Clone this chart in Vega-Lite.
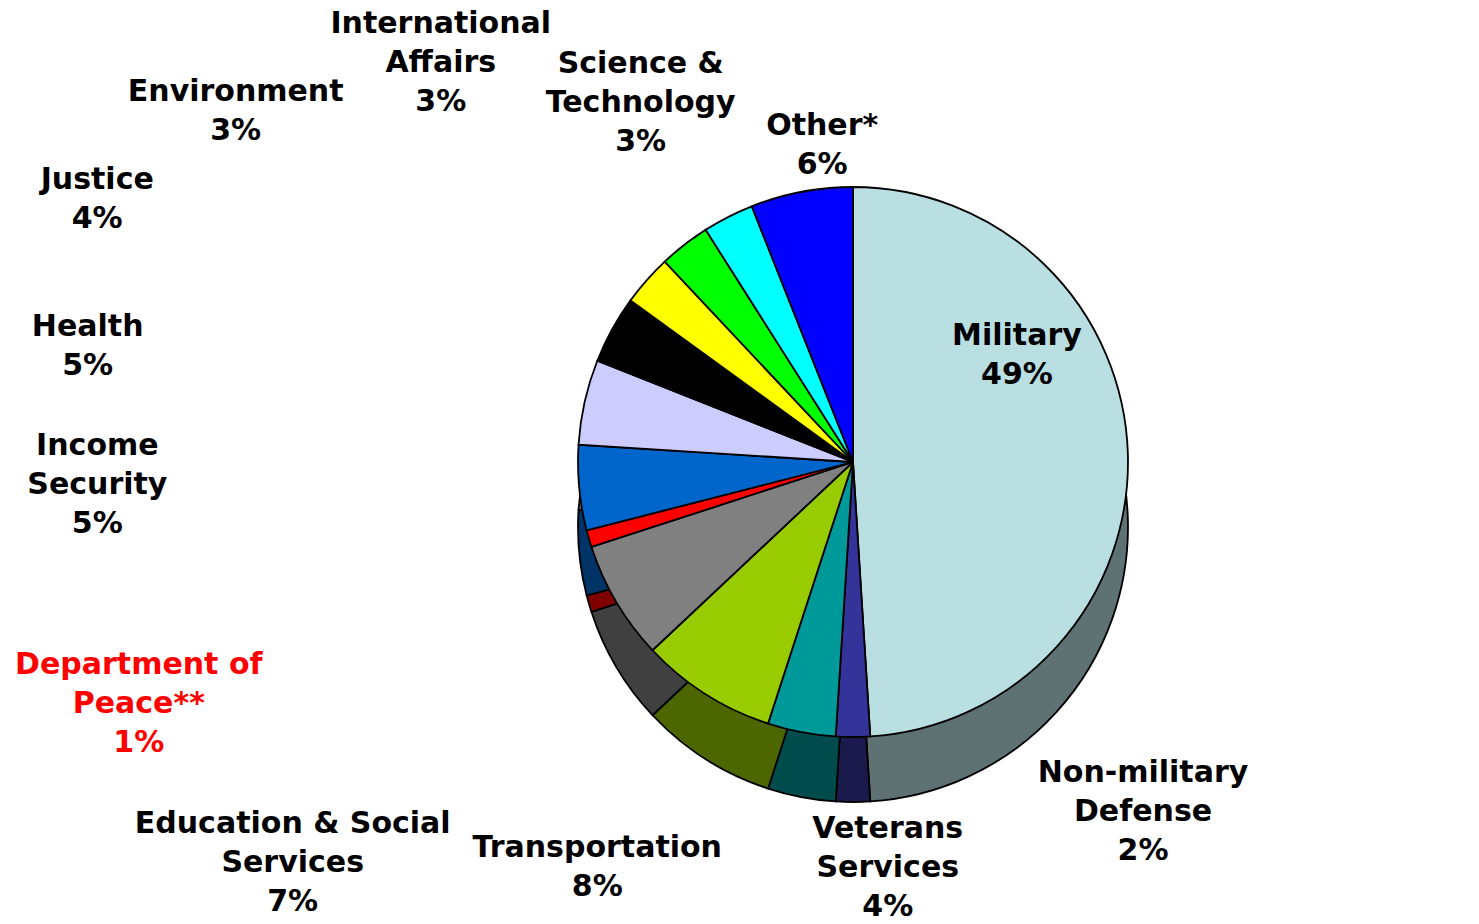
{
  "$schema": "https://vega.github.io/schema/vega-lite/v6.json",
  "autosize": {"type": "none"},
  "width": 1252,
  "height": 898,
  "padding": {"left": 227, "top": 13, "right": 0, "bottom": 13},
  "background": "#ffffff",
  "config": {"view": {"stroke": null}},
  "data": {
    "values": [
      {"name": "Military", "value": 49, "order": 1, "label": "Military\n49%"},
      {"name": "Non-military Defense", "value": 2, "order": 2, "label": "Non-military\nDefense\n2%"},
      {"name": "Veterans Services", "value": 4, "order": 3, "label": "Veterans\nServices\n4%"},
      {"name": "Transportation", "value": 8, "order": 4, "label": "Transportation\n8%"},
      {"name": "Education & Social Services", "value": 7, "order": 5, "label": "Education & Social\nServices\n7%"},
      {"name": "Department of Peace", "value": 1, "order": 6, "label": "Department of\nPeace**\n1%"},
      {"name": "Income Security", "value": 5, "order": 7, "label": "Income\nSecurity\n5%"},
      {"name": "Health", "value": 5, "order": 8, "label": "Health\n5%"},
      {"name": "Justice", "value": 4, "order": 9, "label": "Justice\n4%"},
      {"name": "Environment", "value": 3, "order": 10, "label": "Environment\n3%"},
      {"name": "International Affairs", "value": 3, "order": 11, "label": "International\nAffairs\n3%"},
      {"name": "Science & Technology", "value": 3, "order": 12, "label": "Science &\nTechnology\n3%"},
      {"name": "Other", "value": 6, "order": 13, "label": "Other*\n6%"}
    ]
  },
  "encoding": {
    "theta": {"field": "value", "type": "quantitative", "stack": true},
    "order": {"field": "order", "type": "quantitative"}
  },
  "layer": [
    {
      "mark": {"type": "arc", "outerRadius": 275, "yOffset": 65, "stroke": "#000000", "strokeWidth": 1.8},
      "encoding": {
        "color": {
          "field": "name", "type": "nominal", "legend": null,
          "scale": {
            "domain": ["Military", "Non-military Defense", "Veterans Services", "Transportation", "Education & Social Services", "Department of Peace", "Income Security", "Health", "Justice", "Environment", "International Affairs", "Science & Technology", "Other"],
            "range": ["#5E7173", "#1A1A4C", "#004C4C", "#4C6600", "#404040", "#800000", "#003366", "#666680", "#000000", "#808000", "#008000", "#008080", "#000080"]
          }
        }
      }
    },
    {
      "mark": {"type": "arc", "outerRadius": 275, "stroke": "#000000", "strokeWidth": 1.8},
      "encoding": {
        "color": {
          "field": "name", "type": "nominal", "legend": null,
          "scale": {
            "domain": ["Military", "Non-military Defense", "Veterans Services", "Transportation", "Education & Social Services", "Department of Peace", "Income Security", "Health", "Justice", "Environment", "International Affairs", "Science & Technology", "Other"],
            "range": ["#B9DFE3", "#333399", "#009999", "#99CC00", "#808080", "#FF0000", "#0066CC", "#CCCCFF", "#000000", "#FFFF00", "#00FF00", "#00FFFF", "#0000FF"]
          }
        }
      }
    },
    {
      "mark": {"type": "text", "font": "DejaVu Sans", "fontWeight": "bold", "fontSize": 30, "lineHeight": 39, "lineBreak": "\n", "align": "center", "baseline": "middle", "fill": "#000000", "radius": 179, "dx": -15, "dy": -120},
      "encoding": {"text": {"condition": {"test": "datum.name === 'Military'", "field": "label", "type": "nominal"}, "value": ""}}
    },
    {
      "mark": {"type": "text", "font": "DejaVu Sans", "fontWeight": "bold", "fontSize": 30, "lineHeight": 39, "lineBreak": "\n", "align": "center", "baseline": "middle", "fill": "#000000", "radius": 337, "dx": 290, "dy": -26},
      "encoding": {"text": {"condition": {"test": "datum.name === 'Non-military Defense'", "field": "label", "type": "nominal"}, "value": ""}}
    },
    {
      "mark": {"type": "text", "font": "DejaVu Sans", "fontWeight": "bold", "fontSize": 30, "lineHeight": 39, "lineBreak": "\n", "align": "center", "baseline": "middle", "fill": "#000000", "radius": 380, "dx": 106, "dy": -6},
      "encoding": {"text": {"condition": {"test": "datum.name === 'Veterans Services'", "field": "label", "type": "nominal"}, "value": ""}}
    },
    {
      "mark": {"type": "text", "font": "DejaVu Sans", "fontWeight": "bold", "fontSize": 30, "lineHeight": 39, "lineBreak": "\n", "align": "center", "baseline": "middle", "fill": "#000000", "radius": 468, "dx": -5, "dy": -9},
      "encoding": {"text": {"condition": {"test": "datum.name === 'Transportation'", "field": "label", "type": "nominal"}, "value": ""}}
    },
    {
      "mark": {"type": "text", "font": "DejaVu Sans", "fontWeight": "bold", "fontSize": 30, "lineHeight": 39, "lineBreak": "\n", "align": "center", "baseline": "middle", "fill": "#000000", "radius": 680, "dx": 25, "dy": 16},
      "encoding": {"text": {"condition": {"test": "datum.name === 'Education & Social Services'", "field": "label", "type": "nominal"}, "value": ""}}
    },
    {
      "mark": {"type": "text", "font": "DejaVu Sans", "fontWeight": "bold", "fontSize": 30, "lineHeight": 39, "lineBreak": "\n", "align": "center", "baseline": "middle", "fill": "#FF0000", "radius": 750, "dx": 6, "dy": -6},
      "encoding": {"text": {"condition": {"test": "datum.name === 'Department of Peace'", "field": "label", "type": "nominal"}, "value": ""}}
    },
    {
      "mark": {"type": "text", "font": "DejaVu Sans", "fontWeight": "bold", "fontSize": 30, "lineHeight": 39, "lineBreak": "\n", "align": "center", "baseline": "middle", "fill": "#000000", "radius": 753, "dx": -6, "dy": -87},
      "encoding": {"text": {"condition": {"test": "datum.name === 'Income Security'", "field": "label", "type": "nominal"}, "value": ""}}
    },
    {
      "mark": {"type": "text", "font": "DejaVu Sans", "fontWeight": "bold", "fontSize": 30, "lineHeight": 39, "lineBreak": "\n", "align": "center", "baseline": "middle", "fill": "#000000", "radius": 775, "dx": -9, "dy": 34},
      "encoding": {"text": {"condition": {"test": "datum.name === 'Health'", "field": "label", "type": "nominal"}, "value": ""}}
    },
    {
      "mark": {"type": "text", "font": "DejaVu Sans", "fontWeight": "bold", "fontSize": 30, "lineHeight": 39, "lineBreak": "\n", "align": "center", "baseline": "middle", "fill": "#000000", "radius": 794, "dx": -60, "dy": 101},
      "encoding": {"text": {"condition": {"test": "datum.name === 'Justice'", "field": "label", "type": "nominal"}, "value": ""}}
    },
    {
      "mark": {"type": "text", "font": "DejaVu Sans", "fontWeight": "bold", "fontSize": 30, "lineHeight": 39, "lineBreak": "\n", "align": "center", "baseline": "middle", "fill": "#000000", "radius": 703, "dx": -90, "dy": 95},
      "encoding": {"text": {"condition": {"test": "datum.name === 'Environment'", "field": "label", "type": "nominal"}, "value": ""}}
    },
    {
      "mark": {"type": "text", "font": "DejaVu Sans", "fontWeight": "bold", "fontSize": 30, "lineHeight": 39, "lineBreak": "\n", "align": "center", "baseline": "middle", "fill": "#000000", "radius": 578, "dx": -58, "dy": 19},
      "encoding": {"text": {"condition": {"test": "datum.name === 'International Affairs'", "field": "label", "type": "nominal"}, "value": ""}}
    },
    {
      "mark": {"type": "text", "font": "DejaVu Sans", "fontWeight": "bold", "fontSize": 30, "lineHeight": 39, "lineBreak": "\n", "align": "center", "baseline": "middle", "fill": "#000000", "radius": 428, "dx": -18, "dy": -17},
      "encoding": {"text": {"condition": {"test": "datum.name === 'Science & Technology'", "field": "label", "type": "nominal"}, "value": ""}}
    },
    {
      "mark": {"type": "text", "font": "DejaVu Sans", "fontWeight": "bold", "fontSize": 30, "lineHeight": 39, "lineBreak": "\n", "align": "center", "baseline": "middle", "fill": "#000000", "radius": 330, "dx": 31, "dy": -12},
      "encoding": {"text": {"condition": {"test": "datum.name === 'Other'", "field": "label", "type": "nominal"}, "value": ""}}
    }
  ],
  "resolve": {"scale": {"color": "independent"}}
}
